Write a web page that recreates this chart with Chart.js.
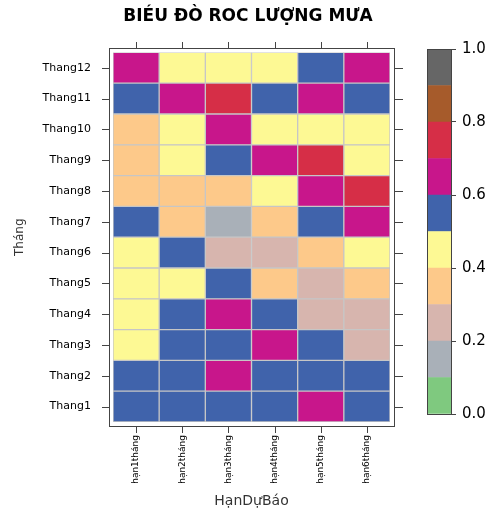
<!DOCTYPE html>
<html>
<head>
<meta charset="utf-8">
<script src="https://cdn.jsdelivr.net/npm/chart.js@4.4.1/dist/chart.umd.min.js"></script>
<style>
  html, body { margin: 0; padding: 0; background: #ffffff; }
  #wrap { position: relative; width: 492px; height: 512px; }
  #main { position: absolute; left: 0; top: 0; }
  #bar { position: absolute; left: 416px; top: 30px; }
</style>
</head>
<body>
<div id="wrap">
  <canvas id="main" width="492" height="512"></canvas>
  <canvas id="bar" width="76" height="400"></canvas>
</div>
<script>
// ---- data ----
const chartTitle = 'BIÉU ĐÒ ROC LƯỢNG MƯA';
const xTitle = 'HạnDựBáo';
const yTitle = 'Tháng';
const horizons = ['hạn1tháng', 'hạn2tháng', 'hạn3tháng', 'hạn4tháng', 'hạn5tháng', 'hạn6tháng'];
const months = ['Thang1', 'Thang2', 'Thang3', 'Thang4', 'Thang5', 'Thang6',
                'Thang7', 'Thang8', 'Thang9', 'Thang10', 'Thang11', 'Thang12'];

const thang1  = [0.55, 0.55, 0.55, 0.55, 0.65, 0.55];
const thang2  = [0.55, 0.55, 0.65, 0.55, 0.55, 0.55];
const thang3  = [0.45, 0.55, 0.55, 0.65, 0.55, 0.25];
const thang4  = [0.45, 0.55, 0.65, 0.55, 0.25, 0.25];
const thang5  = [0.45, 0.45, 0.55, 0.35, 0.25, 0.35];
const thang6  = [0.45, 0.55, 0.25, 0.25, 0.35, 0.45];
const thang7  = [0.55, 0.35, 0.15, 0.35, 0.55, 0.65];
const thang8  = [0.35, 0.35, 0.35, 0.45, 0.65, 0.75];
const thang9  = [0.35, 0.45, 0.55, 0.65, 0.75, 0.45];
const thang10 = [0.35, 0.45, 0.65, 0.45, 0.45, 0.45];
const thang11 = [0.55, 0.65, 0.75, 0.55, 0.65, 0.55];
const thang12 = [0.65, 0.45, 0.45, 0.45, 0.55, 0.65];
const rows = [thang1, thang2, thang3, thang4, thang5, thang6,
              thang7, thang8, thang9, thang10, thang11, thang12];

const colorBreaks = [0, 0.1, 0.2, 0.3, 0.4, 0.5, 0.6, 0.7, 0.8, 0.9, 1.0];
const colorBands = ['#7fc97f', '#a9b0b8', '#d7b5ae', '#fdc98a', '#fdf994',
                    '#4063ab', '#c8168b', '#d62e47', '#a65b2b', '#666666'];

// ---- helpers ----
function colorFor(v) {
  for (let i = 0; i < colorBands.length; i++) {
    if (v >= colorBreaks[i] && v < colorBreaks[i + 1]) return colorBands[i];
  }
  return colorBands[colorBands.length - 1];
}

Chart.defaults.font.family = "'DejaVu Sans', 'Liberation Sans', sans-serif";
Chart.defaults.color = '#000';

const GAP = 4;
const frameColor = '#444444';

const framePlugin = {
  id: 'frame',
  afterDraw(chart) {
    const { ctx, chartArea: a, scales } = chart;
    const L = a.left - GAP, R = a.right + GAP, T = a.top - GAP, B = a.bottom + GAP;
    ctx.save();
    ctx.strokeStyle = frameColor;
    ctx.lineWidth = 1;
    ctx.strokeRect(Math.round(L) + 0.5, Math.round(T) + 0.5, Math.round(R - L), Math.round(B - T));
    ctx.beginPath();
    horizons.forEach((h, i) => {
      const px = Math.round(scales.x.getPixelForValue(i)) + 0.5;
      ctx.moveTo(px, Math.round(T)); ctx.lineTo(px, Math.round(T) - 6);
      ctx.moveTo(px, Math.round(B) + 1); ctx.lineTo(px, Math.round(B) + 7);
    });
    months.forEach((m, i) => {
      const py = Math.round(scales.y.getPixelForValue(i + 0.5)) + 0.5;
      ctx.moveTo(Math.round(L), py); ctx.lineTo(Math.round(L) - 7, py);
      ctx.moveTo(Math.round(R) + 1, py); ctx.lineTo(Math.round(R) + 9, py);
    });
    ctx.stroke();
    ctx.restore();
  }
};

new Chart(document.getElementById('main'), {
  type: 'bar',
  data: {
    labels: horizons,
    datasets: months.map((m, i) => ({
      label: m,
      data: rows[i].map(() => 1),
      backgroundColor: rows[i].map(colorFor),
      borderColor: '#c6c6c6',
      borderWidth: 1,
      borderSkipped: false,
      barPercentage: 1,
      categoryPercentage: 1
    }))
  },
  options: {
    responsive: false,
    animation: false,
    devicePixelRatio: 1,
    layout: { padding: { left: 4, right: 0, top: 0, bottom: 0 } },
    plugins: {
      legend: { display: false },
      tooltip: { enabled: false },
      title: {
        display: true,
        text: chartTitle,
        color: '#000',
        font: { size: 17, weight: 'bold' },
        padding: { top: 6, bottom: 26 }
      }
    },
    scales: {
      x: {
        stacked: true,
        grid: { display: false, drawTicks: false },
        border: { display: false },
        ticks: { minRotation: 90, maxRotation: 90, padding: 13, font: { size: 9 }, color: '#000' },
        title: { display: true, text: xTitle, color: '#333', font: { size: 14 }, padding: { top: 0, bottom: 2 } },
        afterFit(scale) { scale.height = 90; }
      },
      y: {
        type: 'linear',
        stacked: true,
        min: 0,
        max: 12,
        grid: { display: false, drawTicks: false },
        border: { display: false },
        afterBuildTicks(axis) { axis.ticks = months.map((m, i) => ({ value: i + 0.5 })); },
        ticks: {
          autoSkip: false,
          padding: 22,
          font: { size: 11 },
          color: '#000',
          callback: (v) => months[Math.floor(v)]
        },
        title: { display: true, text: yTitle, color: '#333', font: { size: 12 }, padding: { top: 9, bottom: 0 } },
        afterFit(scale) { scale.width = 109; }
      },
      keySpace: {
        type: 'linear',
        position: 'right',
        display: true,
        min: 0,
        max: 1,
        grid: { display: false, drawTicks: false },
        border: { display: false },
        ticks: { display: false },
        afterFit(scale) { scale.width = 102; }
      }
    }
  },
  plugins: [framePlugin]
});

// ---- colour key ----
const barFrame = {
  id: 'barFrame',
  afterDraw(chart) {
    const { ctx, chartArea: a } = chart;
    ctx.save();
    ctx.strokeStyle = frameColor;
    ctx.lineWidth = 1;
    ctx.strokeRect(Math.round(a.left) + 0.5, Math.round(a.top) + 0.5, Math.round(a.right - a.left), Math.round(a.bottom - a.top));
    ctx.restore();
  }
};

new Chart(document.getElementById('bar'), {
  type: 'bar',
  data: {
    labels: [''],
    datasets: colorBands.map((c, i) => ({
      data: [colorBreaks[i + 1] - colorBreaks[i]],
      backgroundColor: c,
      borderWidth: 0,
      barPercentage: 1,
      categoryPercentage: 1
    }))
  },
  options: {
    responsive: false,
    animation: false,
    devicePixelRatio: 1,
    layout: { padding: { left: 11, right: 0, top: 19, bottom: 16 } },
    plugins: { legend: { display: false }, tooltip: { enabled: false } },
    scales: {
      x: { stacked: true, display: false },
      y: {
        position: 'right',
        stacked: true,
        min: 0,
        max: 1,
        grid: { drawOnChartArea: false, drawTicks: true, tickLength: 5, color: frameColor },
        border: { display: true, color: frameColor },
        ticks: { stepSize: 0.2, padding: 6, font: { size: 15 }, color: '#000', callback: (v) => v.toFixed(1) },
        afterFit(scale) { scale.width = 41; }
      }
    }
  },
  plugins: [barFrame]
});
</script>
</body>
</html>
